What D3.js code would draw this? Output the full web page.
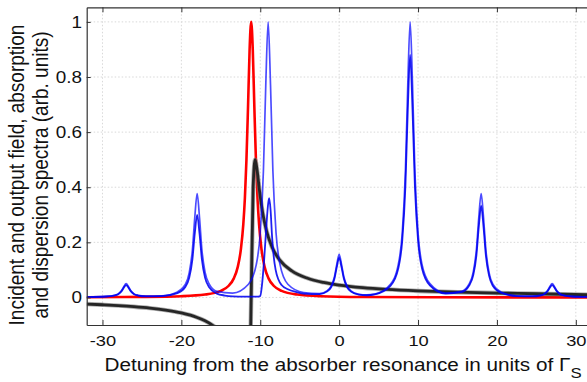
<!DOCTYPE html>
<html><head><meta charset="utf-8">
<script src="https://cdn.jsdelivr.net/npm/d3@7"></script>
<style>body{margin:0;background:#fff}svg{display:block}text{font-family:"Liberation Sans",Arial,sans-serif;fill:#111}</style>
</head><body>
<svg id="c" width="587" height="382"></svg>
<script>
// ---- data ----
const xTicks = [-30,-20,-10,0,10,20,30];
const yTicks = [0,0.2,0.4,0.6,0.8,1];
const yTickLabels = ["0","0.2","0.4","0.6","0.8","1"];

// incident field (blue, comb of lines)
const incidentX = [-32,-29.5,-28.5,-28,-27.6,-27.3,-27,-26.7,-26.4,-26,-25.5,-24.5,-22.5,-20.5,-19.5,-19,-18.6,-18.3,-18,-17.7,-17.4,-17,-16.5,-15.5,-13.5,-11.5,-10.5,-10,-9.6,-9.3,-9,-8.7,-8.4,-8,-7.5,-6.5,-4.5,-2.5,-1.5,-1,-0.6,-0.3,0,0.3,0.6,1,1.5,2.5,3.5,4.5,6.5,7.5,8,8.4,8.7,9,9.3,9.6,10,10.5,11.5,13.5,15.5,16.5,17,17.4,17.7,18,18.3,18.6,19,19.5,20.5,22.5,24.5,25.5,26,26.4,26.7,27,27.3,27.6,28,28.5,29.5,32];
const incidentY = [0.002,0.004,0.008,0.013,0.024,0.039,0.05,0.039,0.024,0.013,0.008,0.005,0.006,0.02,0.047,0.09,0.173,0.29,0.377,0.29,0.174,0.092,0.05,0.022,0.016,0.048,0.12,0.235,0.46,0.772,1.0,0.772,0.46,0.235,0.12,0.048,0.018,0.014,0.025,0.042,0.074,0.12,0.156,0.12,0.074,0.042,0.024,0.011,0.009,0.012,0.048,0.12,0.235,0.46,0.772,1.0,0.772,0.46,0.235,0.12,0.05,0.016,0.022,0.05,0.092,0.174,0.29,0.377,0.29,0.173,0.09,0.047,0.02,0.006,0.005,0.008,0.013,0.024,0.039,0.05,0.039,0.024,0.013,0.008,0.004,0.002];

// output field (blue)
const outputX = [-32,-29.5,-28.5,-28,-27.6,-27.3,-27,-26.7,-26.4,-26,-25.5,-24.5,-22.5,-20.5,-19.5,-19,-18.6,-18.3,-18,-17.7,-17.4,-17,-16.5,-15.5,-14.5,-13.5,-12,-10.5,-10,-9.8,-9.5,-9.2,-9.0,-8.87,-8.7,-8.5,-8.3,-8.05,-7.7,-7.3,-6.5,-5.5,-4.5,-2.5,-1.5,-1,-0.6,-0.3,0,0.3,0.6,1,1.5,2.5,3.5,4.5,6.5,7.5,8,8.4,8.7,9,9.3,9.6,10,10.5,11.5,13.5,15.5,16.5,17,17.4,17.7,18,18.3,18.6,19,19.5,20.5,22.5,24.5,25.5,26,26.4,26.7,27,27.3,27.6,28,28.5,29.5,32];
const outputY = [0.0015,0.0035,0.007,0.012,0.022,0.035,0.045,0.035,0.022,0.012,0.007,0.004,0.005,0.016,0.038,0.072,0.138,0.232,0.30,0.232,0.138,0.072,0.038,0.014,0.007,0.004,0.003,0.003,0.005,0.04,0.14,0.27,0.34,0.36,0.32,0.22,0.15,0.1,0.065,0.045,0.03,0.02,0.014,0.012,0.022,0.038,0.068,0.11,0.144,0.11,0.068,0.038,0.021,0.01,0.008,0.011,0.042,0.106,0.207,0.405,0.68,0.88,0.68,0.405,0.207,0.106,0.044,0.014,0.019,0.044,0.081,0.153,0.256,0.333,0.256,0.152,0.079,0.041,0.017,0.005,0.004,0.007,0.012,0.022,0.035,0.045,0.035,0.022,0.012,0.007,0.0035,0.0015];

// absorption spectrum (red)
const absorptionX = [-32,-25,-20,-17,-15,-14,-13.35,-12.85,-12.45,-12.15,-11.95,-11.75,-11.55,-11.35,-11.15,-10.95,-10.75,-10.55,-10.35,-10.15,-9.85,-9.45,-8.95,-8.3,-7.3,-5.3,-2.3,3,12,32];
const absorptionY = [0.0008,0.0019,0.0046,0.0104,0.0237,0.0424,0.0692,0.111,0.176,0.265,0.36,0.5,0.692,0.9,1,0.9,0.692,0.5,0.36,0.265,0.176,0.111,0.0692,0.0424,0.0237,0.0104,0.0046,0.0018,0.0007,0.0002];

// dispersion spectrum (black)
const dispersionX = [-32,-30,-28,-26,-24,-22,-20,-18,-17,-16,-15,-14,-13,-12.5,-12,-11.65,-11.4,-11.15,-10.9,-10.65,-10.4,-10.1,-9.7,-9.2,-8.5,-7.5,-6,-4,-2,0,3,6,10,15,20,25,32];
const dispersionY = [-0.024,-0.0265,-0.0296,-0.0336,-0.0388,-0.046,-0.0563,-0.0726,-0.0849,-0.102,-0.128,-0.17,-0.252,-0.326,-0.437,-0.5,-0.4,0,0.4,0.5,0.4615,0.388,0.308,0.2406,0.182,0.1345,0.0962,0.0696,0.0545,0.0448,0.0353,0.0291,0.0236,0.0191,0.016,0.0135,0.0095];

// ---- drawing ----
const svg = d3.select("#c");
const L = 86.7, R = 591.6, T = 7.3, B = 325;
const SX = 1.18; // horizontal stretch of the lettering
const x = d3.scaleLinear().domain([-32,32]).range([L,R]);
const y = d3.scaleLinear().domain([-0.1,1.053]).range([B,T]);

svg.append("defs").append("clipPath").attr("id","clip")
  .append("rect").attr("x",L).attr("y",T).attr("width",R-L).attr("height",B-T);

// grid
const grid = svg.append("g");
grid.selectAll(".gx").data(xTicks).join("line")
  .attr("x1",d=>x(d)).attr("x2",d=>x(d)).attr("y1",T).attr("y2",B)
  .attr("stroke","#d8d8d8").attr("stroke-dasharray","1.5,2").attr("stroke-width",1);
grid.selectAll(".gy").data(yTicks).join("line")
  .attr("x1",L).attr("x2",R).attr("y1",d=>y(d)).attr("y2",d=>y(d))
  .attr("stroke","#d8d8d8").attr("stroke-dasharray","1.5,2").attr("stroke-width",1);

const zip = (xs,ys)=>xs.map((v,i)=>[v,ys[i]]);
const line = d3.line().x(d=>x(d[0])).y(d=>y(d[1])).curve(d3.curveMonotoneX);
const plot = svg.append("g").attr("clip-path","url(#clip)");

plot.append("path").attr("d",line(zip(absorptionX,absorptionY)))
  .attr("fill","none").attr("stroke","#ff0000").attr("stroke-width",2.6);
plot.append("path").attr("d",line(zip(dispersionX,dispersionY)))
  .attr("fill","none").attr("stroke","#777").attr("stroke-width",4.4).attr("stroke-opacity",0.6);
plot.append("path").attr("d",line(zip(dispersionX,dispersionY)))
  .attr("fill","none").attr("stroke","#262626").attr("stroke-width",2.8);
plot.append("path").attr("d",line(zip(incidentX,incidentY)))
  .attr("fill","none").attr("stroke","#0000ff").attr("stroke-width",1.7).attr("stroke-opacity",0.7);
plot.append("path").attr("d",line(zip(outputX,outputY)))
  .attr("fill","none").attr("stroke","#0000f0").attr("stroke-width",1.8).attr("stroke-opacity",0.88);

// axes
const xAxis = d3.axisBottom(x).tickValues(xTicks).tickSizeInner(-5).tickSizeOuter(0).tickPadding(10)
  .tickFormat(d=>d<0?"-"+Math.abs(d):String(d));
const gx = svg.append("g").attr("transform",`translate(0,${B})`).call(xAxis);
gx.select(".domain").attr("stroke","#333").attr("stroke-width",1.2);
gx.selectAll(".tick line").attr("stroke","#333");
gx.selectAll("text").attr("font-size",15.5).attr("fill","#111").attr("transform",`scale(${SX},1)`)
  .attr("font-family","Liberation Sans, Arial, sans-serif");

const xTop = d3.axisTop(x).tickValues(xTicks).tickSizeInner(-5).tickSizeOuter(0).tickFormat("");
const gt = svg.append("g").attr("transform",`translate(0,${T})`).call(xTop);
gt.select(".domain").attr("stroke","#333").attr("stroke-width",1.2);
gt.selectAll(".tick line").attr("stroke","#333");

const yAxis = d3.axisLeft(y).tickValues(yTicks).tickSizeInner(-4).tickSizeOuter(0).tickPadding(4)
  .tickFormat((d,i)=>yTickLabels[i]);
const gy = svg.append("g").attr("transform",`translate(${L},0)`).call(yAxis);
gy.select(".domain").attr("stroke","#333").attr("stroke-width",1.2);
gy.selectAll(".tick line").attr("stroke","#333");
gy.selectAll("text").attr("font-size",16).attr("fill","#111").attr("transform",`scale(${SX},1)`)
  .attr("font-family","Liberation Sans, Arial, sans-serif");

// axis titles
const xt = svg.append("text").attr("transform",`translate(343,371) scale(1.12,1)`)
  .attr("text-anchor","middle").attr("font-size",18.5);
xt.append("tspan").text("Detuning from the absorber resonance in units of Γ");
xt.append("tspan").attr("dy",7).attr("font-size",15).text("S");

const yt = svg.append("text").attr("transform",`translate(0,175) scale(${SX},1) rotate(-90)`)
  .attr("text-anchor","middle").attr("font-size",19);
yt.append("tspan").attr("x",0).attr("y",20).text("Incident and output field, absorption");
yt.append("tspan").attr("x",0).attr("y",40.5).text("and dispersion spectra (arb. units)");
</script>
</body></html>
